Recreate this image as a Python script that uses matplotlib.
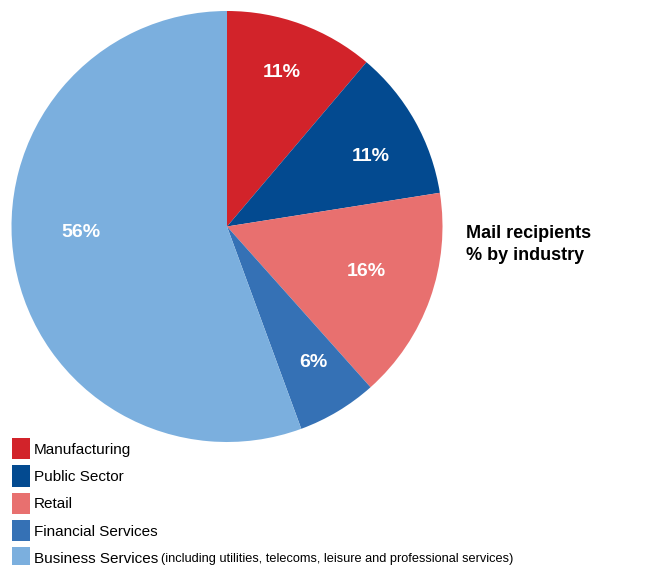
import numpy as np
import matplotlib.pyplot as plt

plt.rcParams['font.family'] = ['Liberation Sans', 'DejaVu Sans']

# Mail recipients by industry (%)
industries = ['Manufacturing', 'Public Sector', 'Retail',
              'Financial Services', 'Business Services']
shares = [11.2, 11.3, 15.9, 6.0, 55.6]
colors = ['#d2232a', '#034a90', '#e8706f', '#3571b5', '#7bafde']
note = '(including utilities, telecoms, leisure and professional services)'

# label placement: distance from centre (radius units), angle clockwise from top
label_dist = [0.76, 0.74, 0.68, 0.745, 0.68]
label_ang = [19.6, 64.1, 108.0, 147.6, 267.5]

W, H = 656, 565
fig = plt.figure(figsize=(W / 100, H / 100), dpi=100)

# pie centred at (227, 226.5) px, radius ~215.5 px
cx, cy, r = 227, 226.5, 215.5
ax = fig.add_axes([(cx - r) / W, (H - cy - r) / H, 2 * r / W, 2 * r / H])
wedges, _, pcts = ax.pie(shares, colors=colors, startangle=90, counterclock=False,
                         autopct='%.0f%%', pctdistance=0.72, radius=1,
                         textprops=dict(color='white', fontsize=14, fontweight='bold'))
for t, d, a in zip(pcts, label_dist, label_ang):
    t.set_position((d * np.sin(np.radians(a)), d * np.cos(np.radians(a))))
ax.set_xlim(-1, 1)
ax.set_ylim(-1, 1)
ax.set_aspect('equal')
ax.axis('off')

fig.text(466 / W, 1 - 238 / H, 'Mail recipients', fontsize=13, fontweight='bold', va='baseline')
fig.text(466 / W, 1 - 260 / H, '% by industry', fontsize=13, fontweight='bold', va='baseline')

leg = fig.legend(wedges, industries, loc='upper left',
                 bbox_to_anchor=(12 / W, 1 - 438 / H), frameon=False,
                 fontsize=11, handlelength=1.18, handleheight=1.76,
                 handletextpad=0.26, labelspacing=0.4, borderpad=0, borderaxespad=0)

# smaller note after the last legend entry
fig.canvas.draw()
last = leg.get_texts()[-1]
bb = last.get_window_extent()
fig.text((bb.x1 + 3) / W, bb.y0 / H + 0.5 / H, note, fontsize=9.2, va='bottom')

fig.savefig('out.png', dpi=100)
